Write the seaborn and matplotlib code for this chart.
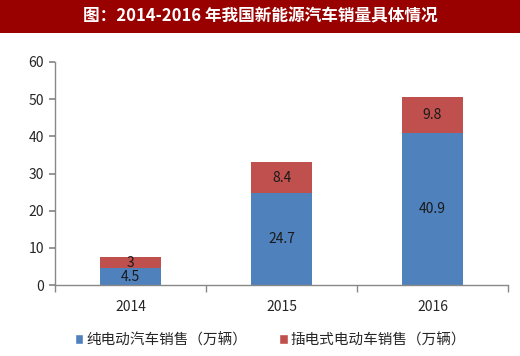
import matplotlib
matplotlib.use("Agg")
import matplotlib.pyplot as plt
from matplotlib.patches import Rectangle, Patch
import seaborn as sns
import pandas as pd

years = ["2014", "2015", "2016"]
bev = [4.5, 24.7, 40.9]
phev = [3, 8.4, 9.8]
bev_label = "纯电动汽车销售（万辆）"
phev_label = "插电式电动车销售（万辆）"
title = "图：2014-2016 年我国新能源汽车销量具体情况"
yticks = [0, 10, 20, 30, 40, 50, 60]

sns.set_theme(style="white")
plt.rcParams['font.family'] = ['Noto Sans CJK SC', 'DejaVu Sans']

blue = "#4F81BD"
red = "#C0504D"

df = pd.DataFrame({"year": years, "bev": bev, "phev": phev})
df["total"] = df["bev"] + df["phev"]

fig = plt.figure(figsize=(5.2, 3.56), dpi=100)
ax = fig.add_axes([0.106, 0.199, 0.871, 0.627])

sns.barplot(data=df, x="year", y="total", color=red, saturation=1, width=0.4, ax=ax, linewidth=0)
sns.barplot(data=df, x="year", y="bev", color=blue, saturation=1, width=0.4, ax=ax, linewidth=0)

for i in range(len(years)):
    ax.text(i, bev[i] / 2, f"{bev[i]:g}", ha="center", va="center", fontsize=10, color="#1a1a1a")
    ax.text(i, bev[i] + phev[i] / 2, f"{phev[i]:g}", ha="center", va="center", fontsize=10, color="#1a1a1a")

ax.set_ylim(0, 60)
ax.set_yticks(yticks)
ax.set_xlim(-0.5, 2.5)
ax.set_xlabel("")
ax.set_ylabel("")
for s in ["top", "right"]:
    ax.spines[s].set_visible(False)
for s in ["left", "bottom"]:
    ax.spines[s].set_color("#888888")
    ax.spines[s].set_linewidth(1)
ax.tick_params(axis="y", labelsize=10, length=4, color="#888888", direction="out", left=True, pad=4)
ax.tick_params(axis="x", labelsize=10, length=0, pad=11)
ax.set_xticks([-0.5, 0.5, 1.5, 2.5], minor=True)
ax.tick_params(axis="x", which="minor", length=5, color="#888888", direction="out", bottom=True)

fig.patches.append(Rectangle((0, 1 - 33 / 356), 1, 33 / 356, transform=fig.transFigure,
                             facecolor="#990000", edgecolor="none", zorder=0))
fig.text(0.5, 1 - 16.5 / 356, title, ha="center", va="center", color="white",
         fontsize=12, fontweight="bold")

handles = [Patch(facecolor=blue, label=bev_label), Patch(facecolor=red, label=phev_label)]
fig.legend(handles=handles, loc="center", bbox_to_anchor=(0.52, 1 - 340 / 356), ncol=2,
           frameon=False, fontsize=10.5, handlelength=0.6, handleheight=0.6, handletextpad=0.2,
           columnspacing=2.2)

fig.savefig("out.png", dpi=100)
